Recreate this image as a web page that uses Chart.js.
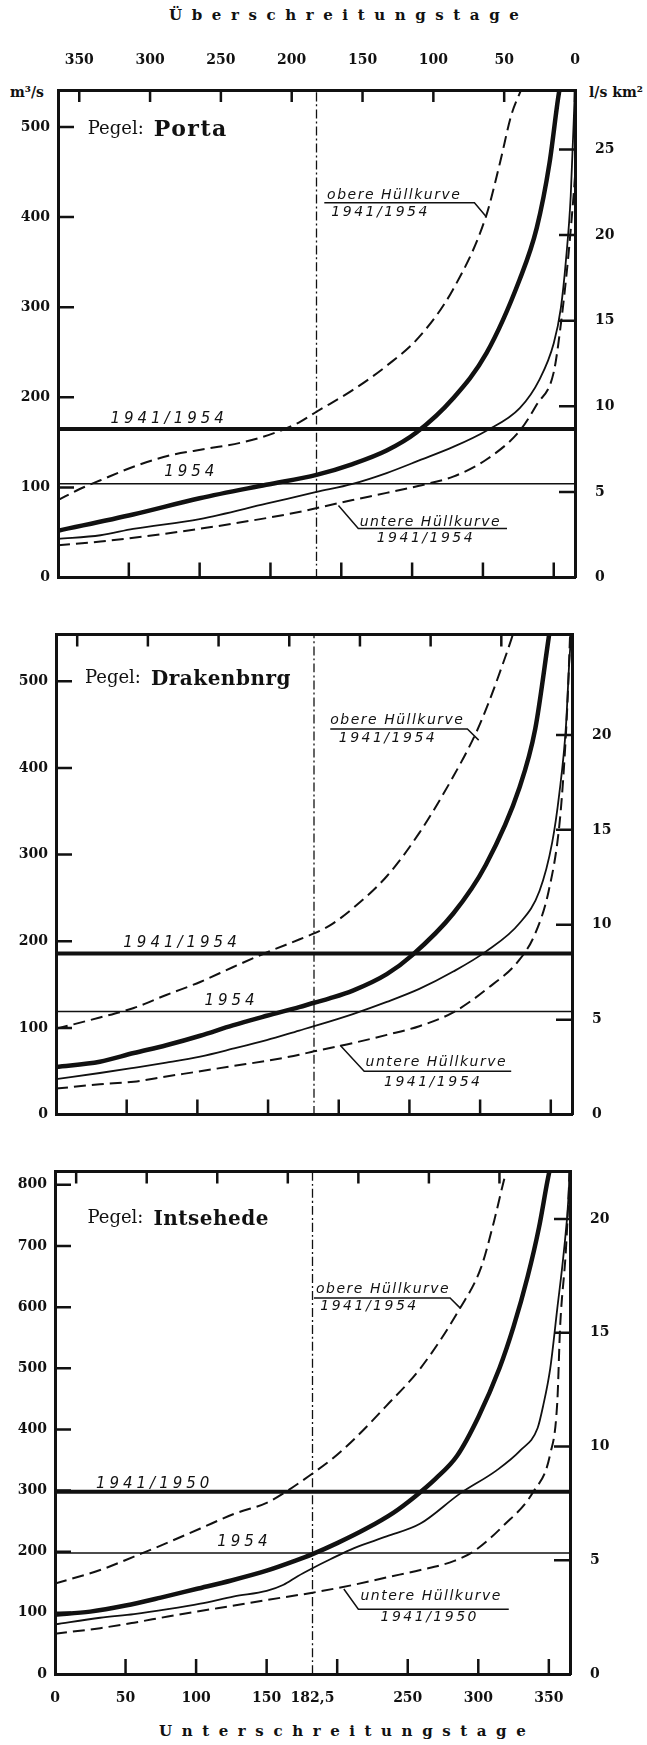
<!DOCTYPE html>
<html>
<head>
<meta charset="utf-8">
<script src="https://cdn.jsdelivr.net/npm/chart.js@4.4.0/dist/chart.umd.min.js"></script>
<style>
    html, body { margin: 0; padding: 0; background: #fff; }
    #page { position: relative; width: 647px; height: 1745px; overflow: hidden; background: #fff; }
    .panel { position: absolute; left: 0; }
    .lbl { position: absolute; font-family: "DejaVu Serif", serif; font-weight: bold; color: #111; white-space: nowrap; }
</style>
</head>
<body>
<div id="page">
    <div class="lbl" style="top:6px; left:169px; font-size:15px; letter-spacing:9.6px;">Überschreitungstage</div>
    <div class="lbl" style="top:1722px; left:159px; font-size:15px; letter-spacing:9.6px;">Unterschreitungstage</div>
    <div class="lbl" style="top:84px; left:10px; font-size:14px;">m³/s</div>
    <div class="lbl" style="top:84px; left:589px; font-size:14px;">l/s km²</div>
    <div class="panel" style="top:0px"><canvas id="c1"></canvas></div>
    <div class="panel" style="top:606px"><canvas id="c2"></canvas></div>
    <div class="panel" style="top:1143px"><canvas id="c3"></canvas></div>
</div>
<script>
// days of the year (Unterschreitungstage) and discharge in m3/s
// Pegel Porta
const porta_upper_days = [0, 15, 30, 55, 80, 105, 130, 152, 170, 182.5, 208, 232, 255, 279, 302, 312, 320, 328];
const porta_upper_q = [86, 98, 108, 124, 136, 143, 150, 160, 172, 184, 208, 235, 267, 320, 400, 460, 513, 545];
const porta_mean_days = [0, 53, 100, 147, 182.5, 208, 232, 253, 279, 302.5, 326, 338, 347, 353, 356];
const porta_mean_q = [52, 70, 88, 103, 114, 126, 141, 161, 199, 249, 331, 388, 460, 531, 560];
const porta_1954_days = [0, 30, 53, 100, 147, 182.5, 208, 232, 255, 279, 302.5, 326, 340, 350, 355, 358.6, 362, 365];
const porta_1954_q = [43, 47, 54, 65, 82, 95, 104, 116, 130, 145, 163, 188, 220, 260, 299, 352, 424, 545];
const porta_lower_days = [0, 30, 77, 124, 171, 185, 208, 232, 255, 279, 302.5, 326, 338, 350, 355, 360, 364, 365];
const porta_lower_q = [36, 40, 49, 60, 73, 78, 86, 94, 102, 112, 131, 163, 192, 228, 281, 352, 424, 445];
const porta_mq = 165;
const porta_mq_1954 = 104;

// Pegel Drakenburg
const draken_upper_days = [0, 31, 55, 78, 102, 125, 149, 172, 182.5, 193.5, 210, 234, 257, 281, 297, 306, 315, 322, 328];
const draken_upper_q = [99, 112, 123, 138, 153, 170, 187, 202, 209, 218, 238, 275, 325, 390, 440, 475, 515, 548, 580];
const draken_mean_days = [0, 31, 55, 78, 102, 125, 149, 172, 182.5, 193.5, 210, 234, 252, 281, 304, 328, 339, 348.5, 352];
const draken_mean_q = [55, 61, 71, 80, 91, 103, 114, 124, 129, 134, 143, 162, 184, 232, 288, 378, 445, 550, 590];
const draken_1954_days = [0, 31, 55, 78, 102, 125, 149, 172, 182.5, 210, 234, 257, 281, 304, 328, 342, 351, 356, 360.6, 363, 365];
const draken_1954_q = [41, 48, 54, 60, 67, 76, 86, 97, 102, 116, 130, 145, 165, 188, 221, 258, 314, 370, 445, 520, 570];
const draken_lower_days = [0, 31, 55, 78, 102, 125, 149, 172, 182.5, 210, 234, 257, 281, 304, 328, 339, 348.5, 356, 359.6, 362, 364];
const draken_lower_q = [30, 35, 38, 44, 50, 56, 62, 69, 73, 82.5, 92, 102, 118, 144, 179, 209, 258, 333, 408, 483, 570];
const draken_mq = 186;
const draken_mq_1954 = 119;

// Pegel Intschede
const intsch_upper_days = [0, 32, 56, 80, 103, 127, 150, 165, 182.5, 195.5, 212, 235, 259, 287, 302, 311, 318, 322];
const intsch_upper_q = [148, 170, 192, 215, 238, 262, 280, 300, 328, 350, 384, 439, 500, 598, 665, 739, 806, 840];
const intsch_mean_days = [0, 25, 50, 75, 100, 125, 150, 170, 182.5, 200, 220, 240, 255, 270, 285, 300, 315, 325, 335, 343, 349, 352];
const intsch_mean_q = [97, 102, 112, 125, 139, 153, 169, 185, 196, 214, 237, 264, 290, 320, 357, 420, 500, 568, 650, 730, 806, 840];
const intsch_1954_days = [0, 32, 56, 80, 103, 127, 150, 162, 172, 182.5, 195.5, 212, 235, 259, 287, 313, 330, 342, 346, 351, 356, 360.6, 364, 365];
const intsch_1954_q = [81, 92, 98, 106, 115, 127, 136, 146, 160, 173, 188, 206, 225, 246, 295, 333, 366, 402, 439, 500, 598, 690, 782, 840];
const intsch_lower_days = [0, 32, 56, 80, 103, 127, 150, 182.5, 212, 235, 259, 283, 297, 318, 339, 351, 356, 358, 362, 364, 365];
const intsch_lower_q = [66, 75, 84, 94, 103, 112, 121, 133, 146, 158, 170, 185, 201, 243, 298, 360, 445, 568, 690, 782, 840];
const intsch_mq = 298;
const intsch_mq_1954 = 198;

const medianDay = 182.5;

// axis ticks
const topTicks = [0, 50, 100, 150, 200, 250, 300, 350];          // Überschreitungstage
const bottomMarks = [50, 100, 150, 200, 250, 300, 350];
const bottomLabels = [0, 50, 100, 150, 182.5, 250, 300, 350];    // Unterschreitungstage
const porta_ticks = [0, 100, 200, 300, 400, 500];
const draken_ticks = [0, 100, 200, 300, 400, 500];
const intsch_ticks = [0, 100, 200, 300, 400, 500, 600, 700, 800];
const porta_spec_ticks = [0, 5, 10, 15, 20, 25];   // l/s km2
const draken_spec_ticks = [0, 5, 10, 15, 20];
const intsch_spec_ticks = [0, 5, 10, 15, 20];

const W = 647;
const numFont = { family: 'DejaVu Serif', weight: 'bold', size: 14 };
const hand = 'italic 14px "DejaVu Sans"';
const handBig = 'italic 15px "DejaVu Sans"';

function pts(days, q) {
    return days.map((d, i) => ({ x: d, y: q[i] }));
}

function decor(p) {
    return {
        id: 'decor',
        afterDatasetsDraw(chart) {
            const { ctx, chartArea: a, scales } = chart;
            const X = scales.x, Y = scales.y, Y2 = scales.y2, XT = scales.xTop;
            ctx.save();
            ctx.strokeStyle = '#111';
            ctx.fillStyle = '#111';
            ctx.setLineDash([]);
            // inward tick marks
            ctx.lineWidth = 2.5;
            ctx.beginPath();
            p.yTicks.filter(v => v > 0).forEach(v => {
                const y = Y.getPixelForValue(v);
                ctx.moveTo(a.left, y); ctx.lineTo(a.left + 16, y);
            });
            p.specTicks.filter(v => v > 0).forEach(v => {
                const y = Y2.getPixelForValue(v);
                ctx.moveTo(a.right, y); ctx.lineTo(a.right - 16, y);
            });
            topTicks.forEach(v => {
                const x = XT.getPixelForValue(v);
                ctx.moveTo(x, a.top); ctx.lineTo(x, a.top + 12);
            });
            bottomMarks.forEach(v => {
                const x = X.getPixelForValue(v);
                ctx.moveTo(x, a.bottom); ctx.lineTo(x, a.bottom - 15);
            });
            ctx.stroke();

            ctx.textAlign = 'left';
            ctx.textBaseline = 'middle';
            // gauge name
            let gx = X.getPixelForValue(p.gauge.d), gy = Y.getPixelForValue(p.gauge.q);
            ctx.letterSpacing = '0px';
            ctx.font = '18px "DejaVu Serif"';
            ctx.fillText('Pegel:', gx, gy);
            gx += ctx.measureText('Pegel:').width + 10;
            ctx.font = 'bold ' + p.gauge.size + 'px "DejaVu Serif"';
            ctx.letterSpacing = p.gauge.spacing;
            ctx.fillText(p.gauge.name, gx, gy + 1);

            // handwritten labels
            ctx.font = handBig;
            ctx.letterSpacing = '4px';
            p.marks.forEach(m => ctx.fillText(m.text, X.getPixelForValue(m.d), Y.getPixelForValue(m.q)));

            p.notes.forEach(n => {
                ctx.font = hand;
                ctx.letterSpacing = '1.5px';
                ctx.fillText(n.lines[0].text, X.getPixelForValue(n.lines[0].d), Y.getPixelForValue(n.lines[0].q));
                ctx.letterSpacing = '2.5px';
                ctx.fillText(n.lines[1].text, X.getPixelForValue(n.lines[1].d), Y.getPixelForValue(n.lines[1].q));
                ctx.lineWidth = 1.5;
                ctx.beginPath();
                n.path.forEach((pt, i) => {
                    const x = X.getPixelForValue(pt[0]), y = Y.getPixelForValue(pt[1]);
                    if (i === 0) ctx.moveTo(x, y); else ctx.lineTo(x, y);
                });
                ctx.stroke();
            });
            ctx.restore();
        }
    };
}

function makeChart(p) {
    const cv = document.getElementById(p.id);
    cv.width = W;
    cv.height = p.height;
    const line = (data, width, dash) => ({
        data: data, borderColor: '#111', borderWidth: width, borderDash: dash || [],
        pointRadius: 0, fill: false, cubicInterpolationMode: 'monotone'
    });
    return new Chart(cv, {
        type: 'line',
        data: {
            datasets: [
                line(pts([0, 365], [p.mq, p.mq]), 4),
                line(pts([0, 365], [p.mq1954, p.mq1954]), 1.5),
                line(pts([medianDay, medianDay], [0, p.max]), 1.3, [9, 3, 2, 3]),
                line(p.upper, 2, [12, 6]),
                line(p.lower, 2, [12, 6]),
                line(p.y1954, 1.8),
                line(p.mean, 4.5)
            ]
        },
        options: {
            responsive: false,
            animation: false,
            layout: { padding: 0 },
            plugins: { legend: { display: false }, tooltip: { enabled: false } },
            scales: {
                x: {
                    type: 'linear', position: 'bottom', min: 0, max: 365,
                    afterBuildTicks: s => { s.ticks = bottomLabels.map(v => ({ value: v })); },
                    afterFit: s => { s.height = p.top + p.height - p.plotBottom; },
                    grid: { display: false, drawTicks: false },
                    border: { display: true, width: 3, color: '#111' },
                    ticks: {
                        display: p.bottomLabels, autoSkip: false, maxRotation: 0, padding: 16,
                        color: '#111', font: numFont,
                        callback: v => String(v).replace('.', ',')
                    }
                },
                xTop: {
                    type: 'linear', position: 'top', min: 0, max: 365, reverse: true,
                    afterBuildTicks: s => { s.ticks = topTicks.map(v => ({ value: v })); },
                    afterFit: s => { s.height = p.plotTop - p.top; },
                    grid: { display: false, drawTicks: false },
                    border: { display: true, width: 3, color: '#111' },
                    ticks: { display: p.topLabels, autoSkip: false, maxRotation: 0, padding: 21, color: '#111', font: numFont }
                },
                y: {
                    type: 'linear', position: 'left', min: 0, max: p.max,
                    afterBuildTicks: s => { s.ticks = p.yTicks.map(v => ({ value: v })); },
                    afterFit: s => { s.width = p.left; },
                    grid: { display: false, drawTicks: false },
                    border: { display: true, width: 3, color: '#111' },
                    ticks: { autoSkip: false, padding: 8, color: '#111', font: numFont }
                },
                y2: {
                    type: 'linear', position: 'right', min: 0, max: p.max / p.factor,
                    afterBuildTicks: s => { s.ticks = p.specTicks.map(v => ({ value: v })); },
                    afterFit: s => { s.width = W - p.right; },
                    grid: { display: false, drawTicks: false },
                    border: { display: true, width: 3, color: '#111' },
                    ticks: { autoSkip: false, padding: 20, color: '#111', font: numFont }
                }
            }
        },
        plugins: [decor(p)]
    });
}

makeChart({
    id: 'c1', top: 0, height: 606, left: 58, right: 575, plotTop: 90, plotBottom: 596,
    max: 541, factor: 19.0, yTicks: porta_ticks, specTicks: porta_spec_ticks, topLabels: true, bottomLabels: false,
    mq: porta_mq, mq1954: porta_mq_1954,
    upper: pts(porta_upper_days, porta_upper_q), mean: pts(porta_mean_days, porta_mean_q),
    y1954: pts(porta_1954_days, porta_1954_q), lower: pts(porta_lower_days, porta_lower_q),
    gauge: { name: 'Porta', d: 21, q: 497, size: 22, spacing: '1.5px' },
    marks: [{ text: '1941/1954', d: 37, q: 176 }, { text: '1954', d: 75, q: 117 }],
    notes: [
        { lines: [{ text: 'obere Hüllkurve', d: 190, q: 424 }, { text: '1941/1954', d: 193, q: 405 }],
          path: [[188, 416], [294, 416], [302.5, 400]] },
        { lines: [{ text: 'untere Hüllkurve', d: 213, q: 61 }, { text: '1941/1954', d: 225, q: 44 }],
          path: [[198, 80], [212, 54.6], [317, 54.6]] }
    ]
});

makeChart({
    id: 'c2', top: 606, height: 537, left: 56, right: 572, plotTop: 622, plotBottom: 1132,
    max: 554, factor: 21.9, yTicks: draken_ticks, specTicks: draken_spec_ticks, topLabels: false, bottomLabels: false,
    mq: draken_mq, mq1954: draken_mq_1954,
    upper: pts(draken_upper_days, draken_upper_q), mean: pts(draken_mean_days, draken_mean_q),
    y1954: pts(draken_1954_days, draken_1954_q), lower: pts(draken_lower_days, draken_lower_q),
    gauge: { name: 'Drakenbnrg', d: 20.5, q: 503, size: 20, spacing: '0.5px' },
    marks: [{ text: '1941/1954', d: 47.6, q: 198 }, { text: '1954', d: 105, q: 131 }],
    notes: [
        { lines: [{ text: 'obere Hüllkurve', d: 194, q: 455 }, { text: '1941/1954', d: 200, q: 434 }],
          path: [[194, 445], [291, 445], [299, 432]] },
        { lines: [{ text: 'untere Hüllkurve', d: 219, q: 60 }, { text: '1941/1954', d: 232, q: 37 }],
          path: [[201, 80], [218, 50], [322, 50]] }
    ]
});

makeChart({
    id: 'c3', top: 1143, height: 602, left: 55, right: 570, plotTop: 1164, plotBottom: 1674,
    max: 822, factor: 37.2, yTicks: intsch_ticks, specTicks: intsch_spec_ticks, topLabels: false, bottomLabels: true,
    mq: intsch_mq, mq1954: intsch_mq_1954,
    upper: pts(intsch_upper_days, intsch_upper_q), mean: pts(intsch_mean_days, intsch_mean_q),
    y1954: pts(intsch_1954_days, intsch_1954_q), lower: pts(intsch_lower_days, intsch_lower_q),
    gauge: { name: 'Intsehede', d: 23, q: 745, size: 20, spacing: '0.5px' },
    marks: [{ text: '1941/1950', d: 29, q: 311 }, { text: '1954', d: 115, q: 216 }],
    notes: [
        { lines: [{ text: 'obere Hüllkurve', d: 185, q: 629 }, { text: '1941/1954', d: 188, q: 601 }],
          path: [[183.5, 615], [280, 615], [287.4, 598]] },
        { lines: [{ text: 'untere Hüllkurve', d: 216.5, q: 127 }, { text: '1941/1950', d: 230.7, q: 92 }],
          path: [[204.7, 139], [215, 106], [321.6, 106]] }
    ]
});
</script>
</body>
</html>
